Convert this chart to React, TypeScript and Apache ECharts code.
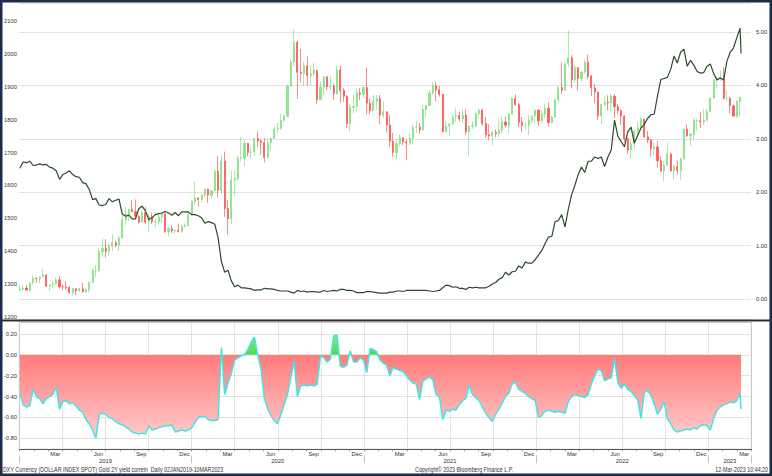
import React, { useEffect, useRef } from 'react';
import * as echarts from 'echarts';

const DAY = 86400000;
const AXIS_START = Date.UTC(2019, 0, 1);
const AXIS_END = Date.UTC(2023, 3, 1);
const FIRST_WEEK = Date.UTC(2019, 0, 2);
const LAST_DAY = Date.UTC(2023, 2, 10);
const TOTAL_MONTHS = (2023 - 2019) * 12 + 3;

const MONTHS = ['Jan', 'Feb', 'Mar', 'Apr', 'May', 'Jun', 'Jul', 'Aug', 'Sep', 'Oct', 'Nov', 'Dec'];
const LABELLED_MONTHS = ['Mar', 'Jun', 'Sep', 'Dec'];
const YEARS = ['2019', '2020', '2021', '2022', '2023'];

const FOOTER_LEFT = 'DXY Currency (DOLLAR INDEX SPOT) Gold 2Y yield correln  Daily 02JAN2019-10MAR2023';
const FOOTER_MID = 'Copyright\u00a9 2023 Bloomberg Finance L.P.';
const FOOTER_RIGHT = '12-Mar-2023 10:44:20';

// Gold weekly candles [open, close, low, high]
const GOLD: number[][] = [
  [1282,1285,1279,1298],[1285,1288,1281,1297],[1288,1282,1279,1298],[1282,1304,1276,1304],[1304,1318,1298,1326],
  [1318,1316,1303,1320],[1316,1322,1302,1322],[1322,1328,1320,1346],[1328,1294,1291,1330],[1294,1298,1280,1300],
  [1298,1302,1290,1311],[1302,1313,1297,1320],[1313,1292,1287,1324],[1292,1291,1281,1299],[1291,1290,1282,1310],
  [1290,1275,1270,1294],[1275,1286,1266,1288],[1286,1280,1266,1287],[1280,1286,1278,1288],[1286,1277,1274,1303],
  [1277,1283,1273,1286],[1283,1305,1275,1306],[1305,1341,1304,1348],[1341,1341,1322,1358],[1341,1399,1336,1411],
  [1399,1409,1382,1439],[1409,1400,1381,1437],[1400,1415,1386,1427],[1415,1426,1401,1452],[1426,1419,1411,1433],
  [1419,1440,1400,1448],[1440,1497,1440,1510],[1497,1513,1480,1535],[1513,1527,1492,1530],[1527,1520,1520,1555],
  [1520,1506,1503,1557],[1506,1488,1484,1510],[1488,1517,1488,1524],[1517,1489,1483,1535],[1489,1505,1459,1514],
  [1505,1489,1482,1517],[1489,1490,1474,1499],[1490,1504,1480,1517],[1504,1514,1486,1517],[1514,1459,1456,1516],
  [1459,1468,1445,1474],[1468,1462,1455,1478],[1462,1464,1452,1466],[1464,1460,1457,1484],[1460,1476,1455,1480],
  [1476,1478,1472,1485],[1478,1511,1476,1514],[1511,1552,1508,1554],[1552,1562,1540,1611],[1562,1557,1536,1564],
  [1557,1571,1548,1575],[1571,1589,1563,1591],[1589,1570,1547,1590],[1570,1584,1562,1585],[1584,1643,1581,1649],
  [1643,1585,1563,1689],[1585,1674,1575,1692],[1674,1530,1504,1703],[1530,1499,1451,1556],[1499,1617,1482,1645],
  [1617,1620,1567,1645],[1620,1683,1615,1690],[1683,1683,1673,1747],[1683,1728,1660,1738],[1728,1700,1688,1730],
  [1700,1702,1683,1716],[1702,1743,1691,1745],[1743,1735,1717,1765],[1735,1730,1693,1740],[1730,1685,1670,1745],
  [1685,1730,1685,1745],[1730,1743,1705,1745],[1743,1771,1742,1779],[1771,1774,1761,1789],[1774,1798,1770,1818],
  [1798,1810,1792,1815],[1810,1902,1808,1905],[1902,1975,1900,1984],[1975,2035,1963,2075],[2035,1944,1863,2040],
  [1944,1940,1912,2015],[1940,1964,1902,1976],[1964,1934,1902,1992],[1934,1940,1906,1966],[1940,1950,1933,1973],
  [1950,1861,1848,1952],[1861,1899,1860,1917],[1899,1930,1873,1932],[1930,1900,1890,1933],[1900,1902,1890,1932],
  [1902,1879,1860,1910],[1879,1951,1877,1965],[1951,1889,1850,1965],[1889,1871,1855,1897],[1871,1788,1775,1875],
  [1788,1838,1764,1848],[1838,1840,1820,1875],[1840,1881,1825,1897],[1881,1877,1860,1896],[1877,1898,1865,1900],
  [1898,1850,1816,1959],[1850,1828,1817,1863],[1828,1856,1827,1875],[1856,1863,1831,1875],[1863,1814,1785,1875],
  [1814,1824,1807,1855],[1824,1784,1761,1825],[1784,1734,1717,1815],[1734,1700,1687,1760],[1700,1727,1677,1740],
  [1727,1745,1719,1755],[1745,1733,1722,1745],[1733,1729,1677,1740],[1729,1744,1723,1759],[1744,1777,1724,1785],
  [1777,1777,1760,1797],[1777,1769,1756,1790],[1769,1831,1765,1845],[1831,1843,1808,1845],[1843,1881,1841,1890],
  [1881,1903,1876,1913],[1903,1891,1855,1916],[1891,1877,1870,1903],[1877,1764,1761,1878],[1764,1781,1761,1795],
  [1781,1787,1750,1790],[1787,1808,1785,1818],[1808,1812,1792,1834],[1812,1802,1794,1825],[1802,1814,1790,1832],
  [1814,1763,1753,1832],[1763,1780,1690,1782],[1780,1781,1772,1795],[1781,1818,1778,1822],[1818,1828,1804,1834],
  [1828,1788,1782,1834],[1788,1754,1745,1808],[1754,1750,1737,1787],[1750,1761,1721,1765],[1761,1757,1746,1770],
  [1757,1768,1746,1800],[1768,1793,1760,1813],[1793,1783,1778,1810],[1783,1818,1759,1818],[1818,1864,1815,1868],
  [1864,1846,1842,1877],[1846,1792,1778,1850],[1792,1783,1762,1808],[1783,1783,1770,1793],[1783,1798,1753,1815],
  [1798,1811,1788,1813],[1811,1829,1788,1831],[1829,1797,1782,1832],[1797,1817,1791,1829],[1817,1835,1805,1848],
  [1835,1791,1780,1853],[1791,1808,1788,1812],[1808,1860,1806,1865],[1860,1898,1850,1902],[1898,1889,1878,1974],
  [1889,1970,1889,1974],[1970,1988,1960,2070],[1988,1921,1895,1996],[1921,1958,1911,1966],[1958,1925,1890,1960],
  [1925,1945,1915,1946],[1945,1975,1940,1981],[1975,1932,1923,1998],[1932,1897,1872,1936],[1897,1884,1850,1910],
  [1884,1811,1799,1885],[1811,1846,1787,1849],[1846,1853,1842,1870],[1853,1851,1828,1874],[1851,1871,1825,1878],
  [1871,1840,1805,1878],[1840,1827,1816,1847],[1827,1811,1784,1831],[1811,1742,1732,1813],[1742,1708,1697,1745],
  [1708,1727,1680,1739],[1727,1766,1711,1768],[1766,1775,1754,1792],[1775,1802,1774,1807],[1802,1747,1745,1802],
  [1747,1738,1728,1765],[1738,1712,1688,1740],[1712,1717,1691,1729],[1717,1675,1654,1735],[1675,1644,1640,1688],
  [1644,1661,1614,1675],[1661,1695,1660,1730],[1695,1644,1642,1700],[1644,1657,1617,1662],[1657,1645,1635,1675],
  [1645,1681,1616,1684],[1681,1771,1676,1773],[1771,1751,1747,1786],[1751,1755,1721,1760],[1755,1797,1740,1804],
  [1797,1797,1765,1804],[1797,1793,1775,1824],[1793,1798,1784,1833],[1798,1824,1795,1833],[1824,1865,1824,1869],
  [1865,1920,1865,1922],[1920,1926,1896,1930],[1926,1928,1917,1949],[1928,1865,1861,1960],[1865,1865,1855,1890],
  [1865,1842,1819,1870],[1842,1811,1809,1847],[1811,1856,1805,1858],[1856,1868,1810,1870]
];

// US 2Y yield, weekly (right axis)
const YIELD_2Y: number[] = [
  2.45,2.57,2.55,2.58,2.50,2.51,2.53,2.51,2.52,2.47,
  2.45,2.40,2.24,2.33,2.36,2.40,2.33,2.29,2.28,2.18,
  2.16,2.05,1.86,1.88,1.76,1.75,1.77,1.88,1.82,1.85,
  1.87,1.59,1.55,1.57,1.50,1.50,1.69,1.74,1.65,1.49,
  1.52,1.58,1.60,1.61,1.64,1.61,1.57,1.62,1.56,1.63,
  1.63,1.63,1.58,1.58,1.56,1.52,1.42,1.45,1.43,1.40,
  1.15,0.70,0.50,0.54,0.34,0.23,0.26,0.21,0.21,0.20,
  0.19,0.16,0.17,0.17,0.20,0.19,0.19,0.18,0.16,0.15,
  0.15,0.15,0.13,0.11,0.16,0.14,0.15,0.13,0.14,0.14,
  0.13,0.13,0.16,0.14,0.15,0.16,0.15,0.18,0.18,0.16,
  0.16,0.15,0.12,0.12,0.12,0.14,0.14,0.13,0.12,0.11,
  0.11,0.11,0.13,0.13,0.15,0.15,0.14,0.16,0.16,0.16,
  0.16,0.16,0.16,0.16,0.15,0.14,0.15,0.16,0.21,0.26,
  0.25,0.22,0.23,0.20,0.20,0.18,0.22,0.21,0.22,0.21,
  0.21,0.21,0.24,0.28,0.31,0.37,0.40,0.50,0.45,0.51,
  0.52,0.62,0.58,0.69,0.67,0.67,0.74,0.82,0.91,1.04,
  1.16,1.17,1.45,1.47,1.58,1.35,1.68,1.95,2.13,2.33,
  2.47,2.37,2.58,2.58,2.66,2.63,2.66,2.48,2.66,2.79,
  3.35,3.05,2.95,2.85,3.13,3.22,2.92,3.06,3.20,3.27,
  3.38,3.45,3.46,3.80,4.11,4.13,4.15,4.30,4.55,4.42,
  4.62,4.68,4.36,4.47,4.38,4.26,4.23,4.24,4.36,4.40,
  4.22,4.10,4.14,4.10,4.45,4.62,4.70,4.89,5.07
];
const YIELD_LAST = 4.6;

// Gold / 2Y yield correlation, weekly (lower panel)
const CORREL: number[] = [
  -0.37,-0.48,-0.50,-0.49,-0.33,-0.40,-0.42,-0.47,-0.42,-0.40,
  -0.38,-0.31,-0.52,-0.45,-0.44,-0.47,-0.46,-0.49,-0.53,-0.55,
  -0.62,-0.66,-0.72,-0.80,-0.57,-0.56,-0.57,-0.60,-0.61,-0.64,
  -0.66,-0.67,-0.69,-0.71,-0.74,-0.75,-0.76,-0.75,-0.76,-0.68,
  -0.72,-0.71,-0.70,-0.69,-0.68,-0.68,-0.67,-0.74,-0.73,-0.72,
  -0.73,-0.72,-0.70,-0.65,-0.60,-0.59,-0.59,-0.62,-0.63,-0.63,
  -0.62,0.07,-0.38,-0.27,-0.18,-0.05,-0.03,-0.01,0.00,0.05,
  0.12,0.17,0.00,-0.14,-0.42,-0.52,-0.58,-0.63,-0.66,-0.57,
  -0.48,-0.38,-0.22,-0.06,-0.40,-0.30,-0.29,-0.30,-0.29,-0.30,
  -0.28,-0.01,-0.03,-0.07,-0.04,0.18,0.19,-0.11,-0.12,-0.10,
  0.04,-0.07,-0.07,-0.03,-0.05,-0.17,0.06,0.05,0.03,-0.05,
  -0.08,-0.10,-0.20,-0.12,-0.14,-0.15,-0.16,-0.20,-0.24,-0.27,
  -0.28,-0.43,-0.25,-0.23,-0.21,-0.24,-0.38,-0.40,-0.62,-0.53,
  -0.54,-0.52,-0.53,-0.48,-0.44,-0.42,-0.29,-0.38,-0.41,-0.44,
  -0.50,-0.56,-0.60,-0.64,-0.57,-0.52,-0.46,-0.40,-0.37,-0.28,
  -0.26,-0.33,-0.35,-0.37,-0.40,-0.42,-0.44,-0.60,-0.58,-0.54,
  -0.53,-0.54,-0.55,-0.54,-0.55,-0.56,-0.45,-0.40,-0.38,-0.39,
  -0.40,-0.41,-0.38,-0.28,-0.20,-0.14,-0.15,-0.25,-0.23,-0.22,
  -0.03,-0.27,-0.32,-0.28,-0.33,-0.35,-0.39,-0.43,-0.61,-0.36,
  -0.34,-0.39,-0.47,-0.57,-0.52,-0.45,-0.61,-0.66,-0.72,-0.74,
  -0.73,-0.72,-0.71,-0.72,-0.70,-0.71,-0.68,-0.67,-0.68,-0.72,
  -0.61,-0.53,-0.50,-0.48,-0.47,-0.45,-0.46,-0.44,-0.37
];
const CORREL_LAST = -0.52;

const FONT = '"Liberation Sans", Arial, sans-serif';
const TEXT_COLOR = '#333333';
const AXIS_FONT_SIZE = 5.8;
const FOOTER_FONT_SIZE = 6.5;
const FOOTER_SCALE = 0.82;
const GRID_LINE = { color: '#c6c6c6', width: 1, type: 'dotted' as const };

const weekDates = GOLD.map((_, i) => FIRST_WEEK + i * 7 * DAY);

function buildOption() {
  const labelStyle = { fontFamily: FONT, fontSize: AXIS_FONT_SIZE, color: TEXT_COLOR };
  const footerStyle = { fontFamily: FONT, fontSize: FOOTER_FONT_SIZE, fill: TEXT_COLOR, verticalAlign: 'middle' };
  const candles = GOLD.map((c, i) => [weekDates[i], c[0], c[1], c[2], c[3]]);
  const yieldLine = YIELD_2Y.map((v, i) => [weekDates[i], v]).concat([[LAST_DAY, YIELD_LAST]]);
  const corrLine = CORREL.map((v, i) => [weekDates[i], v]).concat([[LAST_DAY, CORREL_LAST]]);

  const topGrid = { left: 19.4, top: 3, width: 732, height: 316 };
  const botGrid = { left: 19.4, top: 322.5, width: 732, height: 126.8 };
  const zeroOffset = 0.2545;

  const monthAxisBase = {
    type: 'value', gridIndex: 1, position: 'bottom', min: 0, max: TOTAL_MONTHS,
    axisLine: { show: false }, axisTick: { show: false }, splitLine: { show: false },
    axisLabel: { show: false }, axisPointer: { show: false }
  };

  return {
    animation: false,
    backgroundColor: '#ffffff',
    grid: [
      { ...topGrid, outerBoundsMode: 'none' },
      { ...botGrid, show: true, borderColor: '#b8b8b8', borderWidth: 0.8, outerBoundsMode: 'none' }
    ],
    xAxis: [
      { type: 'time', gridIndex: 0, min: AXIS_START, max: AXIS_END, show: false, splitLine: { show: false } },
      { type: 'time', gridIndex: 1, min: AXIS_START, max: AXIS_END, show: false, splitLine: { show: false } },
      {
        ...monthAxisBase, interval: 1,
        axisLine: { show: true, lineStyle: { color: '#555555', width: 1 } },
        axisTick: { show: true, length: 2, lineStyle: { color: '#777777', width: 0.8 } }
      },
      { ...monthAxisBase, interval: 3, splitLine: { show: true, lineStyle: GRID_LINE } },
      {
        ...monthAxisBase, interval: 0.5,
        axisLabel: {
          show: true, ...labelStyle, margin: 1.8, showMinLabel: true, showMaxLabel: true,
          formatter: (v: number) => {
            const m = v - 0.5;
            if (Math.abs(m - Math.round(m)) > 1e-6) return '';
            const name = MONTHS[((Math.round(m) % 12) + 12) % 12];
            return LABELLED_MONTHS.indexOf(name) >= 0 ? name : '';
          }
        }
      },
      {
        ...monthAxisBase, interval: 1.5,
        axisLabel: {
          show: true, ...labelStyle, margin: 8.8, showMinLabel: true, showMaxLabel: true,
          formatter: (v: number) => {
            for (let i = 0; i < YEARS.length; i++) {
              const s = i * 12;
              const e = Math.min(s + 12, TOTAL_MONTHS);
              if (Math.abs(v - (s + e) / 2) < 1e-6) return YEARS[i];
            }
            return '';
          }
        }
      },
      {
        ...monthAxisBase, interval: 12, offset: 6,
        axisTick: { show: true, length: 8, lineStyle: { color: '#c0c0c0', width: 1 } }
      }
    ],
    yAxis: [
      {
        type: 'value', gridIndex: 0, position: 'left', min: 1193.9, max: 2154.7, splitNumber: 9,
        axisLine: { show: false }, axisTick: { show: false }, splitLine: { show: false },
        axisLabel: {
          ...labelStyle, margin: 2.4, showMinLabel: false, showMaxLabel: false,
          formatter: (v: number) => String(Math.round(v))
        }
      },
      {
        type: 'value', gridIndex: 0, position: 'right', min: -0.3745, max: 5.543, splitNumber: 6,
        axisLine: { show: false }, axisTick: { show: false },
        splitLine: { show: true, lineStyle: GRID_LINE },
        axisLabel: {
          ...labelStyle, margin: 4.6, showMinLabel: false, showMaxLabel: false,
          formatter: (v: number) => v.toFixed(2)
        }
      },
      {
        type: 'value', gridIndex: 1, position: 'left', min: -0.905, max: 0.309, splitNumber: 6,
        axisLine: { show: false }, axisTick: { show: false },
        splitLine: { show: true, lineStyle: GRID_LINE },
        axisLabel: {
          ...labelStyle, margin: 2.4, showMinLabel: false, showMaxLabel: false,
          formatter: (v: number) => v.toFixed(2)
        }
      }
    ],
    series: [
      {
        name: 'Gold', type: 'candlestick', xAxisIndex: 0, yAxisIndex: 0, data: candles,
        barWidth: 1.6,
        itemStyle: { color: '#8fe88f', color0: '#ff5a5a', borderColor: '#6ddc6d', borderColor0: '#ff3a3a', borderWidth: 0.6 }
      },
      {
        name: '2Y yield', type: 'line', xAxisIndex: 0, yAxisIndex: 1, data: yieldLine,
        showSymbol: false, symbol: 'none',
        lineStyle: { color: '#2d4a2e', width: 1.2 }
      },
      {
        name: 'Correlation', type: 'line', xAxisIndex: 1, yAxisIndex: 2, data: corrLine,
        showSymbol: false, symbol: 'none',
        lineStyle: { color: '#45e3e3', width: 1.5 },
        areaStyle: {
          origin: 'auto', opacity: 1,
          color: {
            type: 'linear', x: 0, y: botGrid.top, x2: 0, y2: botGrid.top + botGrid.height, global: true,
            colorStops: [
              { offset: 0, color: '#a6ff9c' },
              { offset: zeroOffset, color: '#4fd94f' },
              { offset: zeroOffset, color: '#ff7b7b' },
              { offset: 1, color: '#ffd6d6' }
            ]
          }
        }
      }
    ],
    graphic: [
      {
        type: 'line', silent: true, z: 90,
        shape: { x1: 2, y1: 320.6, x2: 770, y2: 320.6 },
        style: { stroke: '#2e2e2e', lineWidth: 2 }
      },
      {
        type: 'rect', silent: true, z: 100,
        shape: { x: 1.25, y: 1.25, width: 769.5, height: 473.5 },
        style: { fill: 'none', stroke: '#1f2b4d', lineWidth: 2.5 }
      },
      {
        type: 'text', silent: true, x: 3, y: 469.7, scaleX: FOOTER_SCALE,
        style: { text: FOOTER_LEFT, ...footerStyle, align: 'left' }
      },
      {
        type: 'text', silent: true, x: 464, y: 469.7, scaleX: FOOTER_SCALE,
        style: { text: FOOTER_MID, ...footerStyle, align: 'center' }
      },
      {
        type: 'text', silent: true, x: 768, y: 469.7, scaleX: FOOTER_SCALE,
        style: { text: FOOTER_RIGHT, ...footerStyle, align: 'right' }
      }
    ]
  };
}

export default function App() {
  const ref = useRef<HTMLDivElement>(null);
  useEffect(() => {
    if (!ref.current) return;
    const chart = echarts.init(ref.current, null, { renderer: 'svg' });
    chart.setOption(buildOption() as any);
    return () => chart.dispose();
  }, []);
  return (
    <div
      ref={ref}
      style={{ position: 'fixed', left: 0, top: 0, width: 772, height: 476, background: '#ffffff' }}
    />
  );
}
